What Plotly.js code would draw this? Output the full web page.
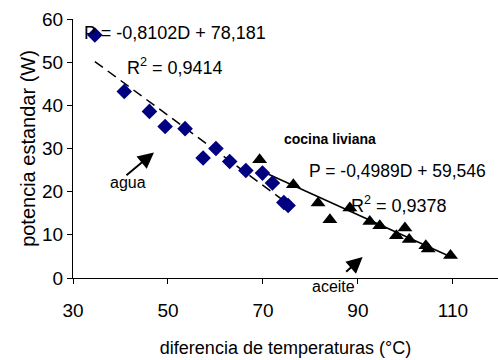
<!DOCTYPE html>
<html>
<head>
<meta charset="utf-8">
<script src="https://cdn.plot.ly/plotly-3.0.1.min.js"></script>
<style>html,body{margin:0;padding:0;background:#fff;}#chart{width:498px;height:360px;}</style>
</head>
<body>
<div id="chart"></div>
<script>
// water (agua) series
const aguaX = [34.6, 40.8, 46.1, 49.4, 53.6, 57.4, 60.1, 63.0, 66.4, 69.9, 72.0, 74.4, 75.3];
const aguaY = [56.3, 43.2, 38.6, 35.1, 34.6, 27.8, 30.0, 27.0, 24.9, 24.3, 22.0, 17.5, 16.8];
// oil (aceite) series
const aceiteX = [69.3, 76.4, 81.6, 84.1, 88.3, 92.5, 94.6, 98.1, 99.9, 100.8, 104.3, 104.8, 109.5];
const aceiteY = [27.4, 21.6, 17.4, 13.5, 16.2, 13.1, 12.1, 9.8, 11.6, 8.9, 7.5, 6.7, 5.2];
// linear trend coefficients [slope, intercept]
const aguaFit = [-0.8102, 78.181];
const aceiteFit = [-0.4989, 59.546];
const xTicks = [30, 50, 70, 90, 110];
const yTicks = [0, 10, 20, 30, 40, 50, 60];

const FONT = 'Arial, "Liberation Sans", sans-serif';

function fitLine(xs, fit) {
  const lo = Math.min(...xs), hi = Math.max(...xs);
  return {x: [lo, hi], y: [fit[0] * lo + fit[1], fit[0] * hi + fit[1]]};
}
const la = fitLine(aguaX, aguaFit);
const lo = fitLine(aceiteX, aceiteFit);

const traces = [
  {x: la.x, y: la.y, mode: 'lines', line: {color: '#000', width: 1.5, dash: '10px,6px'}, hoverinfo: 'skip'},
  {x: lo.x, y: lo.y, mode: 'lines', line: {color: '#000', width: 1.5}, hoverinfo: 'skip'},
  {x: aguaX, y: aguaY, mode: 'markers', marker: {symbol: 'diamond', size: 12, color: '#000080'}},
  {x: aceiteX, y: aceiteY, mode: 'markers', marker: {symbol: 'triangle-up', size: 13, color: '#000'}}
];

const ann = (x, y, text, size, extra) => Object.assign({x, y, xref: 'x', yref: 'y', text, showarrow: false, xanchor: 'left', yanchor: 'middle', font: {family: FONT, size, color: '#000'}}, extra || {});

const layout = {
  width: 498, height: 360,
  margin: {l: 73, r: 0, t: 19, b: 82},
  paper_bgcolor: '#fff', plot_bgcolor: '#fff',
  showlegend: false,
  font: {family: FONT, color: '#000'},
  xaxis: {
    range: [30, 119.5], tickvals: xTicks, ticktext: xTicks.map(String),
    showgrid: false, zeroline: false, showline: true, linecolor: '#000', linewidth: 1,
    ticks: 'outside', ticklen: 5, tickcolor: '#000', tickfont: {size: 19, family: FONT},
    ticklabelstandoff: 10,
    title: {text: 'diferencia de temperaturas (°C)', font: {size: 18, family: FONT}, standoff: 21}
  },
  yaxis: {
    range: [0, 60], tickvals: yTicks, ticktext: yTicks.map(String),
    showgrid: false, zeroline: false, showline: true, linecolor: '#000', linewidth: 1,
    ticks: 'outside', ticklen: 5, tickcolor: '#000', tickfont: {size: 19, family: FONT},
    title: {text: 'potencia estandar (W)', font: {size: 20, family: FONT}, standoff: 1}
  },
  annotations: [
    ann(31.83, 56.75, 'P = -0,8102D + 78,181', 18),
    ann(40.95, 48.95, 'R<sup>2</sup> = 0,9414', 18),
    ann(73.94, 32.27, '<b>cocina liviana</b>', 14),
    ann(79.2, 24.69, 'P = -0,4989D + 59,546', 17.5),
    ann(88.17, 16.98, 'R<sup>2</sup> = 0,9378', 18),
    ann(37.43, 22.14, 'agua', 16),
    {x: 79.9, y: -0.032, xref: 'x', yref: 'paper', text: 'aceite', showarrow: false, xanchor: 'left', yanchor: 'middle', font: {family: FONT, size: 16, color: '#000'}},
    {x: 47.05, y: 29.1, xref: 'x', yref: 'y', text: '', showarrow: true, ax: -29, ay: 24, arrowhead: 2, arrowsize: 1.6, arrowwidth: 2, arrowcolor: '#000'},
    {x: 91.0, y: 4.86, xref: 'x', yref: 'y', text: '', showarrow: true, ax: -18, ay: 16, arrowhead: 2, arrowsize: 1.6, arrowwidth: 2, arrowcolor: '#000'}
  ]
};

Plotly.newPlot('chart', traces, layout, {staticPlot: true, displayModeBar: false});
</script>
</body>
</html>
